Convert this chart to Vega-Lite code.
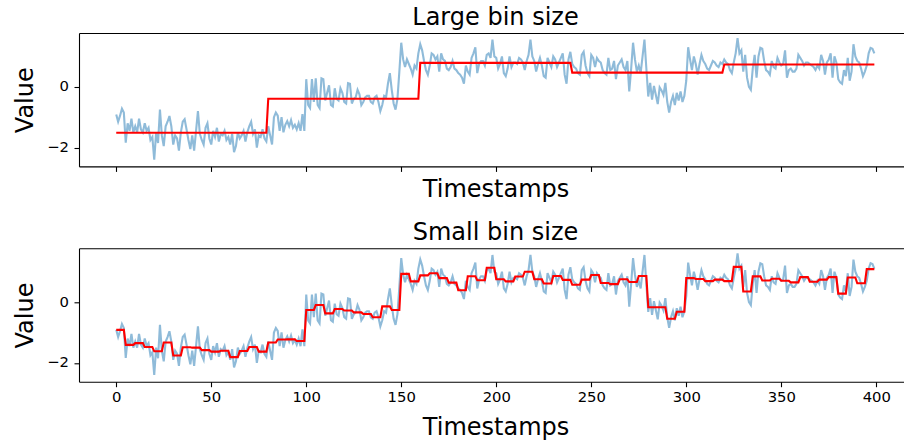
{
  "$schema": "https://vega.github.io/schema/vega-lite/v6.json",
  "autosize": {"type": "pad"},
  "padding": {"left": 13, "top": 5, "right": 0, "bottom": 0},
  "background": "white",
  "config": {
    "font": "DejaVu Sans",
    "view": {"stroke": null},
    "axis": {
      "grid": false,
      "domainColor": "#000000",
      "domainWidth": 1.1,
      "tickColor": "#000000",
      "tickWidth": 1.1,
      "tickSize": 5,
      "labelColor": "#000000",
      "labelFont": "DejaVu Sans",
      "labelFontSize": 14.8,
      "titleColor": "#000000",
      "titleFont": "DejaVu Sans",
      "titleFontSize": 24,
      "titleFontWeight": "normal"
    },
    "title": {
      "font": "DejaVu Sans",
      "fontSize": 24,
      "fontWeight": "normal",
      "color": "#000000",
      "baseline": "alphabetic",
      "offset": 3.3,
      "anchor": "middle",
      "frame": "group",
      "dx": 4
    }
  },
  "datasets": {
    "series": [
      {"t":0,"v":-0.91},{"t":1,"v":-1.15},{"t":2,"v":-0.95},{"t":3,"v":-0.72},{"t":4,"v":-0.85},{"t":5,"v":-1.84},{"t":6,"v":-1.2},{"t":7,"v":-1.45},{"t":8,"v":-1.05},{"t":9,"v":-1.5},
      {"t":10,"v":-1.3},{"t":11,"v":-1.5},{"t":12,"v":-1.05},{"t":13,"v":-1.4},{"t":14,"v":-1.5},{"t":15,"v":-1.2},{"t":16,"v":-1.45},{"t":17,"v":-1.35},{"t":18,"v":-1.75},{"t":19,"v":-1.65},
      {"t":20,"v":-2.4},{"t":21,"v":-1.5},{"t":22,"v":-1.85},{"t":23,"v":-0.75},{"t":24,"v":-1.6},{"t":25,"v":-1.95},{"t":26,"v":-1.3},{"t":27,"v":-1.15},{"t":28,"v":-0.96},{"t":29,"v":-1.3},
      {"t":30,"v":-1.9},{"t":31,"v":-1.6},{"t":32,"v":-1.7},{"t":33,"v":-2.1},{"t":34,"v":-1.5},{"t":35,"v":-1.15},{"t":36,"v":-1.07},{"t":37,"v":-1.4},{"t":38,"v":-1.75},{"t":39,"v":-2.05},
      {"t":40,"v":-1.6},{"t":41,"v":-2.1},{"t":42,"v":-1.45},{"t":43,"v":-0.8},{"t":44,"v":-1.55},{"t":45,"v":-1.75},{"t":46,"v":-1.9},{"t":47,"v":-1.35},{"t":48,"v":-1.2},{"t":49,"v":-1.7},
      {"t":50,"v":-1.9},{"t":51,"v":-1.45},{"t":52,"v":-1.65},{"t":53,"v":-1.35},{"t":54,"v":-1.8},{"t":55,"v":-1.55},{"t":56,"v":-1.6},{"t":57,"v":-1.45},{"t":58,"v":-1.75},{"t":59,"v":-1.65},
      {"t":60,"v":-1.9},{"t":61,"v":-1.55},{"t":62,"v":-2.15},{"t":63,"v":-1.95},{"t":64,"v":-1.5},{"t":65,"v":-1.7},{"t":66,"v":-1.6},{"t":67,"v":-1.45},{"t":68,"v":-1.8},{"t":69,"v":-1.5},
      {"t":70,"v":-1.3},{"t":71,"v":-1.15},{"t":72,"v":-1.55},{"t":73,"v":-1.4},{"t":74,"v":-2.0},{"t":75,"v":-1.6},{"t":76,"v":-1.65},{"t":77,"v":-1.4},{"t":78,"v":-1.7},{"t":79,"v":-1.8},
      {"t":80,"v":-1.3},{"t":81,"v":-1.6},{"t":82,"v":-1.9},{"t":83,"v":-1.0},{"t":84,"v":-0.85},{"t":85,"v":-0.95},{"t":86,"v":-1.45},{"t":87,"v":-1.0},{"t":88,"v":-1.5},{"t":89,"v":-1.25},
      {"t":90,"v":-1.13},{"t":91,"v":-1.3},{"t":92,"v":-1.1},{"t":93,"v":-1.35},{"t":94,"v":-1.25},{"t":95,"v":-1.4},{"t":96,"v":-1.2},{"t":97,"v":-1.45},{"t":98,"v":-0.9},{"t":99,"v":-1.45},
      {"t":100,"v":0.25},{"t":101,"v":-0.6},{"t":102,"v":-0.7},{"t":103,"v":0.25},{"t":104,"v":-0.5},{"t":105,"v":0.28},{"t":106,"v":-0.6},{"t":107,"v":-0.7},{"t":108,"v":0.28},{"t":109,"v":0.25},
      {"t":110,"v":-0.45},{"t":111,"v":-0.2},{"t":112,"v":0.05},{"t":113,"v":-0.6},{"t":114,"v":-0.65},{"t":115,"v":-0.05},{"t":116,"v":-0.4},{"t":117,"v":-0.45},{"t":118,"v":-0.05},{"t":119,"v":-0.2},
      {"t":120,"v":-0.5},{"t":121,"v":-0.55},{"t":122,"v":0.12},{"t":123,"v":0.1},{"t":124,"v":-0.55},{"t":125,"v":-0.4},{"t":126,"v":-0.35},{"t":127,"v":-0.1},{"t":128,"v":-0.25},{"t":129,"v":-0.6},
      {"t":130,"v":-0.5},{"t":131,"v":-0.35},{"t":132,"v":-0.3},{"t":133,"v":-0.3},{"t":134,"v":-0.5},{"t":135,"v":-0.55},{"t":136,"v":-0.35},{"t":137,"v":-0.3},{"t":138,"v":-0.5},{"t":139,"v":-0.8},
      {"t":140,"v":-0.6},{"t":141,"v":-0.3},{"t":142,"v":-0.35},{"t":143,"v":0.1},{"t":144,"v":0.45},{"t":145,"v":-0.1},{"t":146,"v":-0.55},{"t":147,"v":-0.75},{"t":148,"v":-0.4},{"t":149,"v":0.5},
      {"t":150,"v":1.45},{"t":151,"v":0.9},{"t":152,"v":0.65},{"t":153,"v":0.9},{"t":154,"v":0.75},{"t":155,"v":0.6},{"t":156,"v":0.4},{"t":157,"v":0.7},{"t":158,"v":0.6},{"t":159,"v":1.1},
      {"t":160,"v":1.4},{"t":161,"v":1.2},{"t":162,"v":0.85},{"t":163,"v":0.55},{"t":164,"v":0.4},{"t":165,"v":0.7},{"t":166,"v":1.1},{"t":167,"v":1.05},{"t":168,"v":0.9},{"t":169,"v":1.0},
      {"t":170,"v":0.5},{"t":171,"v":1.1},{"t":172,"v":0.9},{"t":173,"v":0.85},{"t":174,"v":0.6},{"t":175,"v":0.55},{"t":176,"v":0.65},{"t":177,"v":0.85},{"t":178,"v":0.6},{"t":179,"v":0.55},
      {"t":180,"v":0.45},{"t":181,"v":0.4},{"t":182,"v":0.3},{"t":183,"v":0.1},{"t":184,"v":0.7},{"t":185,"v":0.5},{"t":186,"v":0.4},{"t":187,"v":0.95},{"t":188,"v":1.1},{"t":189,"v":1.3},
      {"t":190,"v":0.45},{"t":191,"v":0.75},{"t":192,"v":0.85},{"t":193,"v":0.85},{"t":194,"v":0.7},{"t":195,"v":1.05},{"t":196,"v":1.1},{"t":197,"v":0.95},{"t":198,"v":1.55},{"t":199,"v":1.0},
      {"t":200,"v":0.95},{"t":201,"v":0.6},{"t":202,"v":0.75},{"t":203,"v":1.0},{"t":204,"v":0.45},{"t":205,"v":0.35},{"t":206,"v":0.6},{"t":207,"v":1.0},{"t":208,"v":0.65},{"t":209,"v":0.8},
      {"t":210,"v":0.8},{"t":211,"v":0.75},{"t":212,"v":0.95},{"t":213,"v":0.9},{"t":214,"v":0.8},{"t":215,"v":0.55},{"t":216,"v":0.85},{"t":217,"v":1.05},{"t":218,"v":1.55},{"t":219,"v":1.0},
      {"t":220,"v":0.85},{"t":221,"v":0.5},{"t":222,"v":0.75},{"t":223,"v":0.95},{"t":224,"v":0.7},{"t":225,"v":0.35},{"t":226,"v":0.3},{"t":227,"v":0.95},{"t":228,"v":0.8},{"t":229,"v":0.65},
      {"t":230,"v":1.0},{"t":231,"v":0.9},{"t":232,"v":0.65},{"t":233,"v":0.8},{"t":234,"v":0.95},{"t":235,"v":1.1},{"t":236,"v":0.4},{"t":237,"v":0.1},{"t":238,"v":0.9},{"t":239,"v":1.15},
      {"t":240,"v":0.75},{"t":241,"v":0.65},{"t":242,"v":0.6},{"t":243,"v":0.45},{"t":244,"v":0.4},{"t":245,"v":1.05},{"t":246,"v":1.15},{"t":247,"v":0.7},{"t":248,"v":0.45},{"t":249,"v":0.35},
      {"t":250,"v":1.05},{"t":251,"v":0.95},{"t":252,"v":0.65},{"t":253,"v":0.95},{"t":254,"v":0.85},{"t":255,"v":0.8},{"t":256,"v":0.55},{"t":257,"v":0.45},{"t":258,"v":0.4},{"t":259,"v":0.95},
      {"t":260,"v":0.55},{"t":261,"v":0.6},{"t":262,"v":0.85},{"t":263,"v":0.25},{"t":264,"v":0.7},{"t":265,"v":0.8},{"t":266,"v":0.9},{"t":267,"v":0.65},{"t":268,"v":0.55},{"t":269,"v":0.85},
      {"t":270,"v":-0.15},{"t":271,"v":0.6},{"t":272,"v":1.45},{"t":273,"v":0.9},{"t":274,"v":0.5},{"t":275,"v":0.7},{"t":276,"v":0.45},{"t":277,"v":1.0},{"t":278,"v":1.55},{"t":279,"v":0.6},
      {"t":280,"v":-0.32},{"t":281,"v":0.13},{"t":282,"v":-0.42},{"t":283,"v":0.03},{"t":284,"v":-0.27},{"t":285,"v":-0.57},{"t":286,"v":-0.02},{"t":287,"v":-0.12},{"t":288,"v":-0.27},{"t":289,"v":0.13},
      {"t":290,"v":-0.5},{"t":291,"v":-0.85},{"t":292,"v":-0.5},{"t":293,"v":-0.3},{"t":294,"v":-0.6},{"t":295,"v":-0.2},{"t":296,"v":-0.45},{"t":297,"v":-0.15},{"t":298,"v":-0.5},{"t":299,"v":-0.3},
      {"t":300,"v":0.2},{"t":301,"v":1.3},{"t":302,"v":0.9},{"t":303,"v":0.55},{"t":304,"v":1.0},{"t":305,"v":0.75},{"t":306,"v":0.4},{"t":307,"v":0.75},{"t":308,"v":1.05},{"t":309,"v":0.85},
      {"t":310,"v":0.75},{"t":311,"v":0.6},{"t":312,"v":0.55},{"t":313,"v":0.7},{"t":314,"v":0.85},{"t":315,"v":0.8},{"t":316,"v":0.7},{"t":317,"v":0.65},{"t":318,"v":0.8},{"t":319,"v":0.75},
      {"t":320,"v":0.9},{"t":321,"v":0.8},{"t":322,"v":0.75},{"t":323,"v":0.55},{"t":324,"v":0.45},{"t":325,"v":0.8},{"t":326,"v":1.1},{"t":327,"v":1.6},{"t":328,"v":1.1},{"t":329,"v":1.2},
      {"t":330,"v":0.5},{"t":331,"v":1.05},{"t":332,"v":0.3},{"t":333,"v":0.0},{"t":334,"v":-0.1},{"t":335,"v":0.6},{"t":336,"v":1.05},{"t":337,"v":0.3},{"t":338,"v":1.0},{"t":339,"v":1.28},
      {"t":340,"v":1.25},{"t":341,"v":0.85},{"t":342,"v":0.55},{"t":343,"v":0.5},{"t":344,"v":0.4},{"t":345,"v":0.85},{"t":346,"v":0.65},{"t":347,"v":0.6},{"t":348,"v":0.95},{"t":349,"v":0.8},
      {"t":350,"v":0.7},{"t":351,"v":0.75},{"t":352,"v":1.2},{"t":353,"v":0.3},{"t":354,"v":0.55},{"t":355,"v":0.6},{"t":356,"v":0.5},{"t":357,"v":0.5},{"t":358,"v":0.6},{"t":359,"v":1.05},
      {"t":360,"v":0.95},{"t":361,"v":0.85},{"t":362,"v":0.7},{"t":363,"v":0.8},{"t":364,"v":0.8},{"t":365,"v":0.75},{"t":366,"v":0.7},{"t":367,"v":0.65},{"t":368,"v":0.55},{"t":369,"v":0.7},
      {"t":370,"v":0.6},{"t":371,"v":1.05},{"t":372,"v":0.85},{"t":373,"v":0.4},{"t":374,"v":0.8},{"t":375,"v":0.9},{"t":376,"v":1.1},{"t":377,"v":0.3},{"t":378,"v":1.0},{"t":379,"v":0.8},
      {"t":380,"v":0.25},{"t":381,"v":0.15},{"t":382,"v":0.1},{"t":383,"v":0.55},{"t":384,"v":0.35},{"t":385,"v":0.95},{"t":386,"v":0.2},{"t":387,"v":0.5},{"t":388,"v":1.4},{"t":389,"v":1.0},
      {"t":390,"v":0.85},{"t":391,"v":0.8},{"t":392,"v":0.6},{"t":393,"v":0.35},{"t":394,"v":0.5},{"t":395,"v":0.7},{"t":396,"v":1.1},{"t":397,"v":1.28},{"t":398,"v":1.25},{"t":399,"v":1.1}
    ]
  },
  "bounds": "flush",
  "spacing": 81.3,
  "vconcat": [
    {
      "title": "Large bin size",
      "width": 825,
      "height": 133.4,
      "data": {"name": "series"},
      "layer": [
        {
          "mark": {"type": "line", "color": "#1f77b4", "opacity": 0.5, "strokeWidth": 2.1},
          "encoding": {
            "x": {
              "field": "t", "type": "quantitative",
              "scale": {"domain": [-19.6, 414.6], "nice": false, "zero": false},
              "axis": {"orient": "bottom", "values": [0, 50, 100, 150, 200, 250, 300, 350, 400], "labels": false, "title": "Timestamps", "titleX": 416.6, "titleY": 29.8, "titleBaseline": "alphabetic", "titleAlign": "center"}
            },
            "y": {
              "field": "v", "type": "quantitative", "title": "Value",
              "scale": {"domain": [-2.62, 1.77], "nice": false, "zero": false},
              "axis": {"values": [-2, 0], "labelPadding": 5.5, "titleX": -46.7, "titleY": 66.7, "titleBaseline": "alphabetic", "titleAlign": "center", "titleAngle": 270}
            }
          }
        },
        {
          "transform": [
            {"bin": {"step": 80, "anchor": 0}, "field": "t", "as": "bin80"},
            {"joinaggregate": [{"op": "mean", "field": "v", "as": "binMean"}], "groupby": ["bin80"]}
          ],
          "mark": {"type": "line", "color": "#ff0000", "strokeWidth": 2.1},
          "encoding": {
            "x": {"field": "t", "type": "quantitative", "axis": {"orient": "top", "labels": false, "ticks": false, "title": null}},
            "y": {"field": "binMean", "type": "quantitative", "title": "Value"}
          }
        }
      ],
      "resolve": {"axis": {"x": "independent"}}
    },
    {
      "title": "Small bin size",
      "width": 825,
      "height": 133.4,
      "data": {"name": "series"},
      "layer": [
        {
          "mark": {"type": "line", "color": "#1f77b4", "opacity": 0.5, "strokeWidth": 2.1},
          "encoding": {
            "x": {
              "field": "t", "type": "quantitative",
              "scale": {"domain": [-19.6, 414.6], "nice": false, "zero": false},
              "axis": {"orient": "bottom", "values": [0, 50, 100, 150, 200, 250, 300, 350, 400], "labelPadding": 3, "title": "Timestamps", "titleX": 416.6, "titleY": 53, "titleBaseline": "alphabetic", "titleAlign": "center"}
            },
            "y": {
              "field": "v", "type": "quantitative", "title": "Value",
              "scale": {"domain": [-2.62, 1.77], "nice": false, "zero": false},
              "axis": {"values": [-2, 0], "labelPadding": 5.5, "titleX": -46.7, "titleY": 66.7, "titleBaseline": "alphabetic", "titleAlign": "center", "titleAngle": 270}
            }
          }
        },
        {
          "transform": [
            {"bin": {"step": 5, "anchor": 0}, "field": "t", "as": "bin5"},
            {"joinaggregate": [{"op": "mean", "field": "v", "as": "binMean"}], "groupby": ["bin5"]}
          ],
          "mark": {"type": "line", "color": "#ff0000", "strokeWidth": 2.1},
          "encoding": {
            "x": {"field": "t", "type": "quantitative", "axis": {"orient": "top", "labels": false, "ticks": false, "title": null}},
            "y": {"field": "binMean", "type": "quantitative", "title": "Value"}
          }
        }
      ],
      "resolve": {"axis": {"x": "independent"}}
    }
  ]
}
